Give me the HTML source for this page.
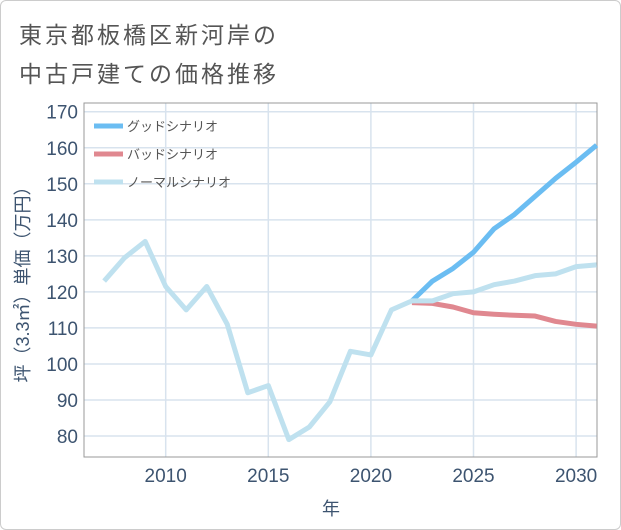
<!DOCTYPE html>
<html><head><meta charset="utf-8"><style>
body{margin:0;background:#fff;font-family:"Liberation Sans","Noto Sans CJK JP",sans-serif;}
#wrap{position:relative;width:619px;height:528px;border:1px solid #ccc;border-radius:6px;overflow:hidden;}
.title{position:absolute;left:18px;font-size:23px;color:#555;letter-spacing:3px;}
</style></head><body>
<div id="wrap">
<div class="title" style="top:15px">東京都板橋区新河岸の</div>
<div class="title" style="top:54px">中古戸建ての価格推移</div>
<svg id="chart" width="621" height="530" style="position:absolute;left:-1px;top:-1px"></svg>
</div>
<script>
const yearsHist=[2007,2008,2009,2010,2011,2012,2013,2014,2015,2016,2017,2018,2019,2020,2021,2022,2023,2024,2025,2026,2027,2028,2029,2030,2031];
const normalVals=[123,129.5,134,121.5,115,121.5,111,92,94,79,82.5,89.5,103.5,102.5,115,117.5,117.5,119.5,120,122,123,124.5,125,127,127.5];
const yearsFc=[2022,2023,2024,2025,2026,2027,2028,2029,2030,2031];
const goodVals=[117.5,123,126.5,131,137.5,141.5,146.5,151.5,156,160.7];
const badVals=[117,116.8,115.8,114.2,113.8,113.5,113.3,111.8,111,110.5];
const yTicks=[80,90,100,110,120,130,140,150,160,170];
const xTicks=[2010,2015,2020,2025,2030];
const legendLabels=["グッドシナリオ","バッドシナリオ","ノーマルシナリオ"];
const legendColors=["#6bbdf2","#e08890","#bfe1ef"];

const L=84,R=597,T=103,B=457;
const x=y=>165.7+(y-2010)*20.52;
const yv=v=>436-(v-80)*3.603;
const svg=document.getElementById('chart');
const NS='http://www.w3.org/2000/svg';
function mk(tag,attrs,parent){const e=document.createElementNS(NS,tag);for(const k in attrs)e.setAttribute(k,attrs[k]);(parent||svg).appendChild(e);return e;}

yTicks.forEach(v=>{
  const g=mk('line',{x1:L,x2:R,y1:yv(v),y2:yv(v),stroke:'#d8e3ee','stroke-width':1.5});
  
  
  const t=mk('text',{x:L-6,y:yv(v)+7,'text-anchor':'end','font-size':19,fill:'#3d5470'});
  t.textContent=v;
  
  
});
xTicks.forEach(v=>{
  const g=mk('line',{x1:x(v),x2:x(v),y1:T,y2:B,stroke:'#d8e3ee','stroke-width':1.5});
  
  
  const t=mk('text',{x:x(v),y:B+25,'text-anchor':'middle','font-size':19,fill:'#3d5470'});
  t.textContent=v;
  
  
});
const frame=mk('path',{d:`M${L},${T}H${R}V${B}H${L}Z`,fill:'none',stroke:'#999','stroke-width':1});



function line(xs,vs,color,name){
  const p=mk('polyline',{points:xs.map((a,i)=>x(a)+','+yv(vs[i])).join(' '),fill:'none',stroke:color,'stroke-width':5,'stroke-linejoin':'round'});
  
  
}
line(yearsFc,badVals,legendColors[1],'bad-scenario-line');
line(yearsFc,goodVals,legendColors[0],'good-scenario-line');
line(yearsHist,normalVals,legendColors[2],'normal-scenario-line');

legendLabels.forEach((lab,i)=>{
  const yy=126+i*28;
  const s=mk('line',{x1:94,x2:123,y1:yy,y2:yy,stroke:legendColors[i],'stroke-width':5});
  
  
  const t=mk('text',{x:127,y:yy+5,'font-size':13,fill:'#555'});
  t.textContent=lab;
  
  
});
const yt=mk('text',{transform:'translate(29,280) rotate(-90)','text-anchor':'middle','font-size':18,fill:'#3d5470'});
yt.textContent='坪（3.3㎡）単価（万円）';


const xt=mk('text',{x:331,y:515,'text-anchor':'middle','font-size':18,fill:'#3d5470'});
xt.textContent='年';


</script>
</body></html>
